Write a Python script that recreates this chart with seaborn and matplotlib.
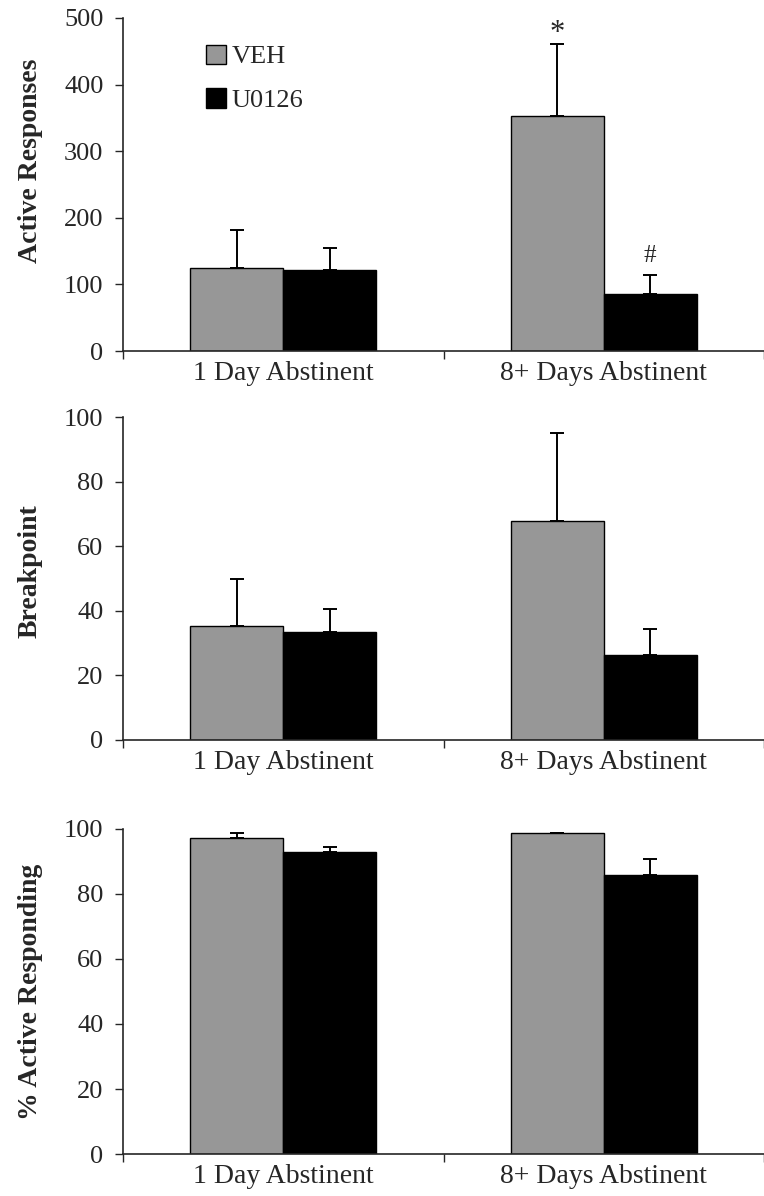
import seaborn as sns
from matplotlib import pyplot as plt
import pandas as pd

groups = ["1 Day Abstinent", "8+ Days Abstinent"]
treatments = ["VEH", "U0126"]
colors = ["#979797", "#000000"]

# means and upper SEM, [1 day, 8+ days] per treatment
active_veh = [124, 353]
active_u0126 = [122, 86]
active_veh_err = [57, 108]
active_u0126_err = [33, 28]

bp_veh = [35.4, 67.9]
bp_u0126 = [33.3, 26.3]
bp_veh_err = [14.3, 27.3]
bp_u0126_err = [7.4, 8.0]

pct_veh = [97.2, 98.6]
pct_u0126 = [93.0, 85.7]
pct_veh_err = [1.7, 0.3]
pct_u0126_err = [1.6, 5.2]

panels = [
    ("Active Responses", active_veh, active_u0126, active_veh_err, active_u0126_err, 500, 100, 0.57),
    ("Breakpoint", bp_veh, bp_u0126, bp_veh_err, bp_u0126_err, 100, 20, 0.523),
    ("% Active Responding", pct_veh, pct_u0126, pct_veh_err, pct_u0126_err, 100, 20, 0.5),
]

sns.set_style("ticks")
plt.rcParams['font.family'] = ['Liberation Serif', 'DejaVu Serif']

fig = plt.figure(figsize=(7.64, 11.96), dpi=100)
# [left, bottom, width, height] for each panel
boxes = [[0.161, 0.7065, 0.839, 0.2785],
         [0.161, 0.3813, 0.839, 0.2700],
         [0.161, 0.0351, 0.839, 0.2718]]

for i, (ylab, veh, u0126, veh_err, u_err, ymax, ystep, ylab_y) in enumerate(panels):
    ax = fig.add_axes(boxes[i])
    df = pd.DataFrame({
        "Group": groups * 2,
        "Treatment": [treatments[0]] * 2 + [treatments[1]] * 2,
        "Value": veh + u0126,
    })
    sns.barplot(data=df, x="Group", y="Value", hue="Treatment", order=groups,
                hue_order=treatments, palette=colors, width=0.58, errorbar=None,
                edgecolor="black", linewidth=1.0, ax=ax, legend=(i == 0))

    # upper-only error bars from the bar containers
    tops = []
    for cont, errs in zip(ax.containers, [veh_err, u_err]):
        xs = [p.get_x() + p.get_width() / 2 for p in cont.patches]
        ys = [p.get_height() for p in cont.patches]
        ax.errorbar(xs, ys, yerr=[[0] * len(errs), errs], fmt='none',
                    ecolor='black', elinewidth=1.4, capsize=5, capthick=1.4, zorder=5)
        tops.append((xs[1], ys[1] + errs[1]))

    if i == 0:
        ax.annotate("*", tops[0], xytext=(0, -3), textcoords="offset points",
                    ha="center", va="bottom", fontsize=22)
        ax.annotate("#", tops[1], xytext=(0, 6), textcoords="offset points",
                    ha="center", va="bottom", fontsize=18)
        leg = ax.get_legend()
        handles = leg.legend_handles
        labels = [t.get_text() for t in leg.get_texts()]
        ax.legend(handles, labels, loc="upper left", bbox_to_anchor=(0.13, 0.92),
                  frameon=False, fontsize=19, handlelength=0.75, handleheight=0.75,
                  handletextpad=0.2, labelspacing=0.75, borderaxespad=0, borderpad=0)

    ax.set_xlim(-0.5, 1.5)
    ax.set_ylim(0, ymax)
    ax.set_yticks(range(0, ymax + 1, ystep))
    ax.set_xticks([-0.5, 0.5, 1.5], minor=True)
    ax.tick_params(axis='x', which='major', length=0, pad=7, labelsize=20)
    ax.tick_params(axis='x', which='minor', length=6, width=1, direction='out')
    ax.tick_params(axis='y', length=6, width=1, pad=8, labelsize=19)
    ax.set_xlabel("")
    ax.set_ylabel(ylab, fontsize=20, fontweight='bold')
    ax.yaxis.set_label_coords(-0.125, ylab_y)
    for side in ["top", "right"]:
        ax.spines[side].set_visible(False)
    ax.spines["left"].set_linewidth(1.2)
    ax.spines["bottom"].set_linewidth(1.2)

fig.savefig("out.png", dpi=100)
